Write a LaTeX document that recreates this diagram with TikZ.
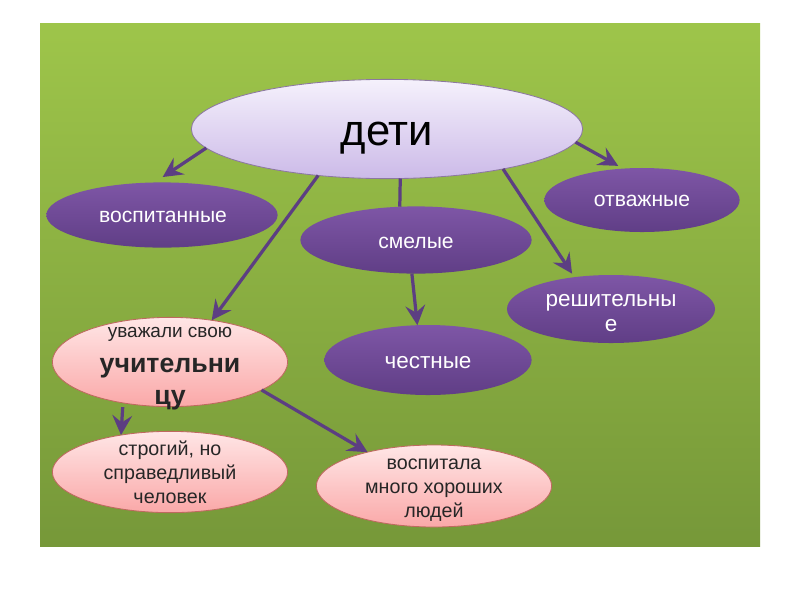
\documentclass[tikz,border=0pt]{standalone}
\usepackage{fontspec}
\setmainfont{Liberation Sans}
\usetikzlibrary{arrows.meta, shapes.geometric, calc}

\definecolor{greenTop}{RGB}{158,197,74}
\definecolor{greenBot}{RGB}{118,152,57}
\definecolor{purpTop}{RGB}{126,86,166}
\definecolor{purpBot}{RGB}{96,62,134}
\definecolor{lavTop}{RGB}{245,241,252}
\definecolor{lavBot}{RGB}{204,186,232}
\definecolor{lavLine}{RGB}{140,120,160}
\definecolor{pinkTop}{RGB}{255,230,230}
\definecolor{pinkBot}{RGB}{250,168,168}
\definecolor{pinkLine}{RGB}{190,105,95}
\definecolor{linkCol}{RGB}{92,62,130}

\tikzset{
  oval/.style={ellipse, inner sep=0pt, outer sep=0pt},
  rootnode/.style={oval, draw=lavLine, line width=0.6pt, top color=lavTop, bottom color=lavBot},
  purpnode/.style={oval, top color=purpTop, bottom color=purpBot},
  pinknode/.style={oval, draw=pinkLine, line width=0.6pt, top color=pinkTop, bottom color=pinkBot},
  whitetxt/.style={align=center, inner sep=0pt, text=white, font=\fontsize{15}{18}\selectfont},
  darktxt/.style={align=center, inner sep=0pt, text=black!85, font=\fontsize{14}{17}\selectfont},
  link/.style={draw=linkCol, line width=2.3pt, -{Stealth[length=14pt,width=14pt,inset=5pt]}}
}

\begin{document}
\begin{tikzpicture}[x=0.025cm, y=-0.025cm]
    \useasboundingbox (0,0) rectangle (800,600);
    \shade[top color=greenTop, bottom color=greenBot] (40,23) rectangle (760,546);

    % top level
    \node[rootnode, minimum width=9.78cm, minimum height=2.48cm] (deti) at (387,129) {};
    \node[anchor=base, inner sep=0pt, font=\fontsize{31}{31}\selectfont] (detiT) at (387,145) {дети};

    \node[purpnode, minimum width=5.78cm, minimum height=1.63cm] (vosp) at (162,215) {};
    \node[whitetxt, anchor=base] (vospT) at (163,222) {воспитанные};
    \node[purpnode, minimum width=4.88cm, minimum height=1.6cm] (otv) at (642,200) {};
    \node[whitetxt, anchor=base] (otvT) at (642,206) {отважные};
    \node[purpnode, minimum width=5.78cm, minimum height=1.68cm] (smel) at (416,240) {};
    \node[whitetxt, anchor=base] (smelT) at (416,248) {смелые};
    \node[purpnode, minimum width=5.2cm, minimum height=1.7cm] (resh) at (611,309) {};
    \node[whitetxt, font=\fontsize{16}{18}\selectfont] (reshT) at ($(resh)+(0,4)$) {решительны\\е};
    \node[purpnode, minimum width=5.18cm, minimum height=1.75cm] (chest) at (428,360) {};
    \node[whitetxt, anchor=base, font=\fontsize{16}{18}\selectfont] (chestT) at (428,368) {честные};

    % teacher
    \node[pinknode, minimum width=5.88cm, minimum height=2.23cm] (uvazh) at (170,362) {};
    \node[darktxt] (uvazhT) at ($(uvazh)+(0,7)$)
        {\fontsize{13.5}{15}\selectfont уважали свою\\[7.5pt]
         \fontsize{19}{22}\selectfont\bfseries учительни\\[6pt]
         \fontsize{19}{22}\selectfont\bfseries цу};
    \node[pinknode, minimum width=5.88cm, minimum height=2.03cm] (strog) at (170,472) {};
    \node[darktxt] (strogT) at (strog) {строгий, но\\справедливый\\человек};
    \node[pinknode, minimum width=5.88cm, minimum height=2.05cm] (vospit) at (434,486) {};
    \node[darktxt] (vospitT) at ($(vospit)+(0,4)$) {воспитала\\много хороших\\людей};

    % links
    \draw[link, shorten >=7pt] (deti.186) -- (vosp.103);
    \draw[link, shorten >=4pt] (deti.356) -- (otv.121);
    \draw[link, -] (deti.285) -- (smel.116);
    \draw[link] (deti.214) -- (uvazh.45);
    \draw[link, shorten >=3pt] (deti.341) -- (resh.139);
    \draw[link] (smel.263) -- (chest.107);
    \draw[link, shorten <=3pt] (uvazh.221) -- (strog.143);
    \draw[link] (uvazh.343) -- (vospit.153);
\end{tikzpicture}
\end{document}
